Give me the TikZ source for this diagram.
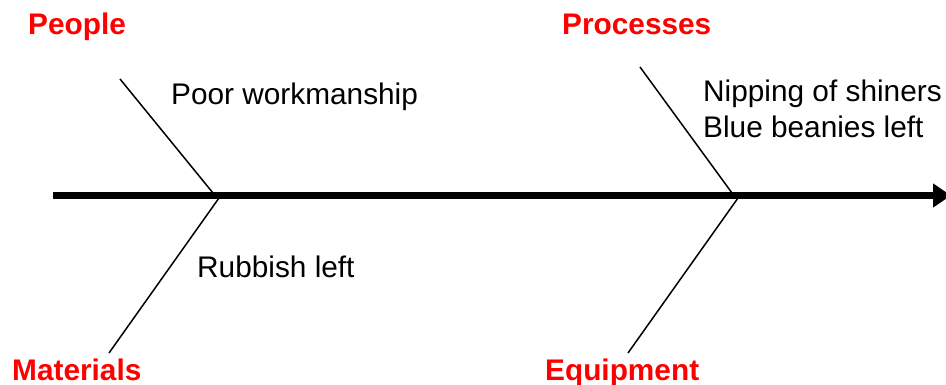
\documentclass[tikz,border=0pt]{standalone}
\usepackage{fontspec}
\setmainfont{Liberation Sans}
\usetikzlibrary{arrows.meta}

\begin{document}
\begin{tikzpicture}[x=1pt,y=-1pt,
		cause/.style={text=red,font=\fontsize{29.8}{36}\selectfont\bfseries,anchor=base west,inner sep=0pt},
		item/.style={font=\fontsize{29.8}{36}\selectfont,anchor=base west,inner sep=0pt,align=left},
		bone/.style={line width=1.5pt},
		spine/.style={line width=7pt,-{Triangle[length=18pt,width=23pt]}}]
		\useasboundingbox (0,0) rectangle (946,385);
		% main axis
		\coordinate (tail) at (53,195.5);
		\coordinate (head) at (951,195.5);
		\draw[spine] (tail) -- (head);
		% ribs
		\coordinate (people end) at (120,79);
		\coordinate (people root) at (213,193);
		\coordinate (materials end) at (109,353);
		\coordinate (materials root) at (219,198);
		\coordinate (processes end) at (640,67);
		\coordinate (processes root) at (732,193);
		\coordinate (equipment end) at (628,353);
		\coordinate (equipment root) at (738,198);
		\draw[bone] (people end) -- (people root);
		\draw[bone] (materials root) -- (materials end);
		\draw[bone] (processes end) -- (processes root);
		\draw[bone] (equipment root) -- (equipment end);
		% categories
		\node[cause] (people) at (28,35) {People};
		\node[cause] (processes) at (562,35) {Processes};
		\node[cause] (materials) at (12,380) {Materials};
		\node[cause] (equipment) at (545,380) {Equipment};
		% causes (base of a two-line node sits on its last line)
		\node[item] (poor) at (171,105) {Poor workmanship};
		\node[item] (nipping) at (703,138) {Nipping of shiners\\Blue beanies left};
		\node[item] (rubbish) at (197,277) {Rubbish left};
\end{tikzpicture}
\end{document}
